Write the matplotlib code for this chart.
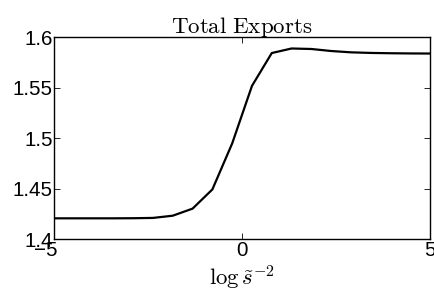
import numpy as np
import matplotlib
matplotlib.use('Agg')
import matplotlib.pyplot as plt
import matplotlib.transforms as mtransforms

plt.rcParams['mathtext.fontset'] = 'cm'
plt.rcParams['font.family'] = 'Liberation Sans'

# log s^-2 grid and total exports values
x = np.linspace(-5, 5, 20)
exports = [1.4209, 1.4209, 1.4209, 1.4209, 1.4210, 1.4213, 1.4235, 1.4305,
           1.4495, 1.4950, 1.5520, 1.5845, 1.5890, 1.5885, 1.5865, 1.5852,
           1.5846, 1.5843, 1.5841, 1.5840]
yticks = [1.4, 1.45, 1.5, 1.55, 1.6]
ytick_labels = ['1.4', '1.45', '1.5', '1.55', '1.6']
xticks = [-5, 0, 5]

fig = plt.figure(figsize=(4.35, 2.92), dpi=100)
ax = fig.add_axes([0.124, 0.180, 0.865, 0.692])
ax.plot(x, exports, color='black', lw=1.6)
ax.set_xlim(-5, 5)
ax.set_ylim(1.4, 1.6)
ax.set_xticks(xticks)
ax.set_yticks(yticks)
ax.set_yticklabels(ytick_labels)
ax.tick_params(direction='in', top=True, right=True, labelsize=14.8, pad=1, length=4, width=0.6)
for s in ax.spines.values():
    s.set_linewidth(1.0)

# the "-5" label sits a bit left of its tick, like in the original
first = ax.xaxis.get_major_ticks()[0].label1
first.set_horizontalalignment('right')
first.set_transform(first.get_transform() +
                    mtransforms.ScaledTranslation(4 / 100, 0, fig.dpi_scale_trans))

ax.set_title(r'$\mathrm{Total\ Exports}$', fontsize=16.5, pad=3)
ax.set_xlabel(r'$\log\tilde{s}^{-2}$', fontsize=16.5, labelpad=3)

fig.savefig('out.png', dpi=100)
